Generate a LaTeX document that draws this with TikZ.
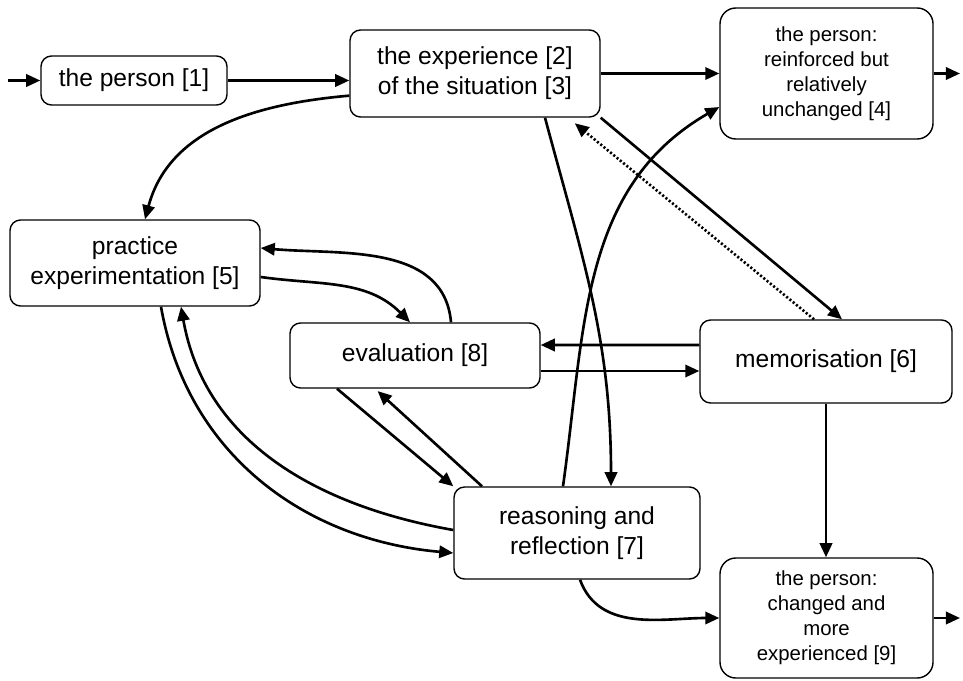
\documentclass[tikz,border=0pt]{standalone}
\usepackage{fontspec}
\setmainfont{Liberation Sans}
\usetikzlibrary{arrows.meta}

\begin{document}
\begin{tikzpicture}[
    box/.style={rectangle, rounded corners=6pt, draw, line width=0.8pt, align=center,
        inner sep=2pt, font=\fontsize{14}{17}\selectfont},
    smallbox/.style={box, rounded corners=9pt, font=\fontsize{11.6}{14.2}\selectfont},
    link/.style={-{Triangle[length=8pt,width=7pt]}, line width=1.5pt},
    ]
            \useasboundingbox (0,0) rectangle (19.26,-13.6);
            % Boxes
            \node[box, minimum width=3.72cm, minimum height=0.98cm] (person) at (2.68,-1.61) {the person [1]};
            \node[box, minimum width=5.0cm, minimum height=1.74cm] (exper) at (9.5,-1.47) {the experience [2]\\of the situation [3]};
            \node[smallbox, minimum width=4.26cm, minimum height=2.62cm] (unchanged) at (16.53,-1.47) {the person:\\reinforced but\\relatively\\unchanged [4]};
            \node[box, minimum width=5.0cm, minimum height=1.72cm] (practice) at (2.7,-5.26) {practice\\experimentation [5]};
            \node[box, minimum width=5.0cm, minimum height=1.3cm] (eval) at (8.3,-7.11) {evaluation [8]};
            \node[box, minimum width=5.04cm, minimum height=1.66cm] (memo) at (16.52,-7.23) {memorisation [6]};
            \node[box, minimum width=4.92cm, minimum height=1.84cm] (reas) at (11.54,-10.66) {reasoning and\\reflection [7]};
            \node[smallbox, minimum width=4.26cm, minimum height=2.4cm] (changed) at (16.53,-12.36) {the person:\\changed and\\more\\experienced [9]};
            % Free ends
            \coordinate (in1) at (0.16,0);
            \coordinate (out) at (19.2,0);
            % Straight arrows
            \draw[link] (in1 |- person.west) -- (person.west);
            \draw[link] (person.east) -- (person.east -| exper.west);
            \draw[link] (exper.east |- unchanged.west) -- (unchanged.west);
            \foreach \i in {unchanged,changed} {
                \draw[link] (\i.east) -- (\i.east -| out);
            }
            \draw[link] (memo.south) -- (memo.south |- changed.north);
            \draw[link] ([yshift=0.33cm]memo.west) -- ([yshift=0.21cm]eval.east);
            \draw[link] ([yshift=-0.31cm]eval.east) -- ([yshift=-0.19cm]memo.west);
            \draw[link] (exper.south east) -- ([xshift=0.32cm]memo.north);
            \draw[link, dash pattern=on 1.2pt off 1.2pt, shorten >=5pt] ([xshift=-0.24cm]memo.north) -- ([xshift=1.86cm]exper.south);
            \draw[link] ([xshift=-1.56cm]eval.south) -- (reas.north west);
            \draw[link, shorten >=2pt] ([xshift=-1.9cm]reas.north) -- ([xshift=-0.8cm]eval.south);
            % Curved arrows
            \draw[link] (exper.190) to[out=185,in=75] ([xshift=0.2cm]practice.north);
            \draw[link] ([xshift=1.4cm]exper.south) to[out=-75,in=90] ([xshift=0.68cm]reas.north);
            \draw[link] ([xshift=-0.28cm]reas.north) to[out=82,in=210] ([yshift=-0.67cm]unchanged.west);
            \draw[link] ([yshift=-0.28cm]practice.east) to[out=-8,in=135] ([xshift=-0.1cm]eval.north);
            \draw[link] ([xshift=0.72cm]eval.north) to[out=95,in=-5] ([yshift=0.3cm]practice.east);
            \draw[link] ([yshift=0.06cm]reas.west) to[out=170,in=-80] ([xshift=0.92cm]practice.south);
            \draw[link] ([xshift=0.52cm]practice.south) to[out=-80,in=175] ([yshift=-0.4cm]reas.west);
            \draw[link] ([xshift=0.06cm]reas.south) to[out=-70,in=180] (changed.west);
\end{tikzpicture}
\end{document}
